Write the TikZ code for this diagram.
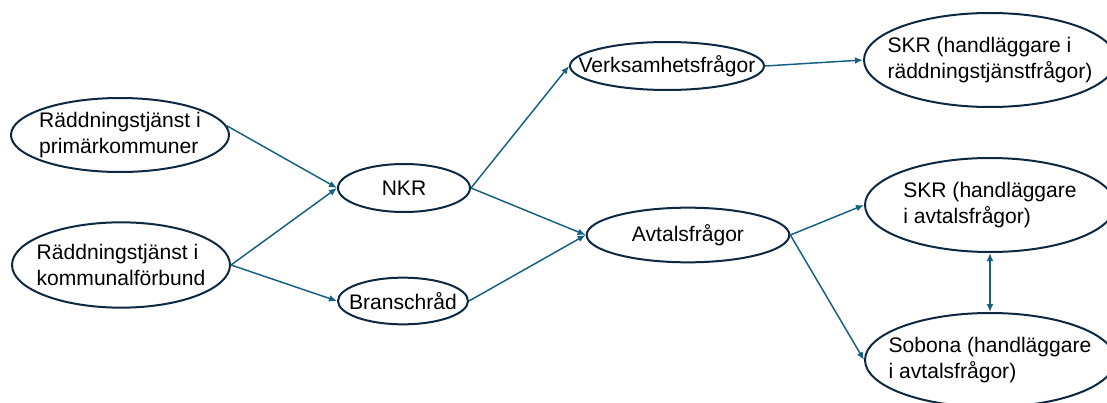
\documentclass[tikz,border=0pt]{standalone}
\usepackage{fontspec}
\setmainfont{Liberation Sans}
\usetikzlibrary{arrows.meta,shapes.geometric}

\definecolor{navy}{HTML}{0E2841}
\definecolor{flow}{HTML}{156082}

\tikzset{
    bubble/.style={ellipse,draw=navy,line width=1.5pt,inner sep=-30pt,align=left,
        font=\fontsize{15.8}{19.5}\selectfont},
    link/.style={-{Latex[length=6pt,width=5pt]},draw=flow,line width=1.1pt},
    twoway/.style={{Latex[length=6pt,width=5pt]}-{Latex[length=6pt,width=5pt]},draw=flow,line width=1.1pt},
}

\begin{document}
\begin{tikzpicture}[x=0.75pt,y=-0.75pt]
        \useasboundingbox (0,0) rectangle (1107,403);

        \coordinate (P) at (120,135);
        \coordinate (K) at (121,265);
        \coordinate (N) at (404,188);
        \coordinate (B) at (403,301);
        \coordinate (V) at (667,66);
        \coordinate (A) at (688,235);
        \coordinate (S1) at (990,60);
        \coordinate (S2) at (990,205);
        \coordinate (S3) at (990,360);

        \node[bubble,minimum width=163.5pt,minimum height=55.5pt] (prim) at (P) {Räddningstjänst i\\primärkommuner};
        \node[bubble,minimum width=163.5pt,minimum height=64pt] (komm) at (K) {Räddningstjänst i\\kommunalförbund};
        \node[bubble,minimum width=99pt,minimum height=36pt] (nkr) at (N) {NKR};
        \node[bubble,minimum width=97.5pt,minimum height=35pt] (bransch) at (B) {Branschråd};
        \node[bubble,minimum width=145.5pt,minimum height=36pt] (verk) at (V) {Verksamhetsfrågor};
        \node[bubble,minimum width=152pt,minimum height=41pt] (avtal) at (A) {Avtalsfrågor};
        \node[bubble,minimum width=189pt,minimum height=70.5pt] (skrv) at (S1) {SKR (handläggare i\\räddningstjänstfrågor)};
        \node[bubble,minimum width=187.5pt,minimum height=70.5pt] (skra) at (S2) {SKR (handläggare\\i avtalsfrågor)};
        \node[bubble,minimum width=187.5pt,minimum height=70.5pt] (sobona) at (S3) {Sobona (handläggare\\i avtalsfrågor)};

        \draw[link] (prim.5) -- (nkr.west);
        \draw[link] (komm.east) -- (nkr.west);
        \draw[link] (komm.east) -- (bransch.west);
        \draw[link] (nkr.east) -- (verk.west);
        \draw[link] (nkr.east) -- (avtal.west);
        \draw[link] (bransch.east) -- (avtal.west);
        \draw[link] (verk.east) -- (skrv.west);
        \draw[link] (avtal.east) -- (skra.west);
        \draw[link] (avtal.east) -- (sobona.west);
        \draw[twoway] (skra.south) -- (sobona.north);
    \end{tikzpicture}
\end{document}
